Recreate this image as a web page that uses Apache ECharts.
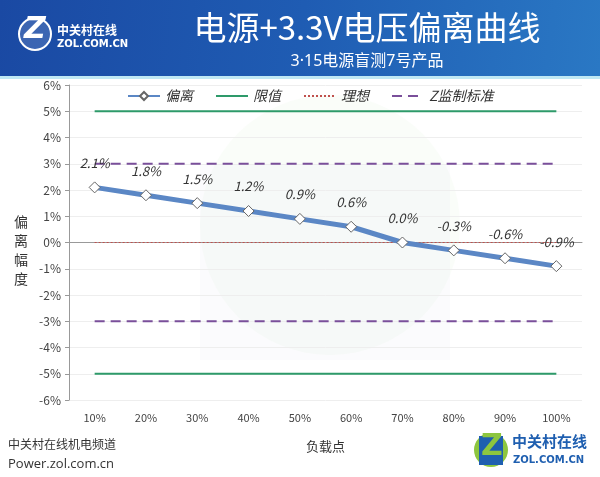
<!DOCTYPE html>
<html><head><meta charset="utf-8">
<script src="https://cdn.jsdelivr.net/npm/echarts@6/dist/echarts.min.js"></script>
<style>html,body{margin:0;padding:0;background:#fff}#c{width:600px;height:477px}</style>
</head><body><div id="c"></div>
<script>
const categories = ['10%','20%','30%','40%','50%','60%','70%','80%','90%','100%'];
const deviation = [2.1, 1.8, 1.5, 1.2, 0.9, 0.6, 0.0, -0.3, -0.6, -0.9];
const limitUpper = [5,5,5,5,5,5,5,5,5,5];
const limitLower = [-5,-5,-5,-5,-5,-5,-5,-5,-5,-5];
const ideal = [0,0,0,0,0,0,0,0,0,0];
const stdUpper = [3,3,3,3,3,3,3,3,3,3];
const stdLower = [-3,-3,-3,-3,-3,-3,-3,-3,-3,-3];
const yTicks = [-6,-5,-4,-3,-2,-1,0,1,2,3,4,5,6];

const font = '"Noto Sans CJK SC", "Noto Sans", sans-serif';
const chart = echarts.init(document.getElementById('c'));
const green = '#2e9a6a', purple = '#7a4f9a', red = '#c0504d', blue = '#5b87c5';

chart.setOption({
  backgroundColor: '#fff',
  textStyle: { fontFamily: font },
  title: [{
    text: '电源+3.3V电压偏离曲线', left: 362, top: 6, textAlign: 'center',
    textStyle: { color: '#fff', fontSize: 33, fontWeight: 'normal', fontFamily: font }
  }, {
    text: '3·15电源盲测7号产品', left: 362, top: 48, textAlign: 'center',
    textStyle: { color: '#fff', fontSize: 16, fontWeight: 'normal', fontFamily: '"Noto Sans", "Noto Sans CJK SC", sans-serif' }
  }],
  graphic: [
    { type: 'rect', z: -10, shape: { x: 0, y: 0, width: 600, height: 76 },
      style: { fill: new echarts.graphic.LinearGradient(0, 0, 1, 1, [
        { offset: 0, color: '#1a49a3' }, { offset: 0.5, color: '#1f5cb3' }, { offset: 1, color: '#2a78c4' }]) } },
    { type: 'rect', z: -10, shape: { x: 0, y: 76, width: 600, height: 3 }, style: { fill: '#bfe8f4' } },
    { type: 'circle', z: -10, shape: { cx: 35, cy: 34, r: 16 }, style: { fill: 'rgba(255,255,255,0.15)', stroke: '#fff', lineWidth: 2 } },
    { type: 'text', z: 10, left: 24, top: 15, style: { text: 'Z', fill: '#fff', font: 'italic bold 30px "DejaVu Sans", sans-serif' } },
    { type: 'text', z: 10, left: 57, top: 24, style: { text: '中关村在线', fill: '#fff', font: 'bold 12px ' + font } },
    { type: 'text', z: 10, left: 57, top: 39, style: { text: 'ZOL.COM.CN', fill: '#fff', font: 'bold 10px "DejaVu Sans", sans-serif' } },
    { type: 'circle', z: -20, shape: { cx: 330, cy: 225, r: 130 }, style: { fill: 'rgba(220,238,205,0.13)' } },
    { type: 'rect', z: -19, shape: { x: 200, y: 165, width: 250, height: 195 }, style: { fill: 'rgba(228,228,242,0.15)' } },
    { type: 'text', left: 14, top: 212, style: { text: '偏\n离\n幅\n度', fill: '#333', font: '14px ' + font, lineHeight: 19 } },
    { type: 'text', left: 8, top: 438, style: { text: '中关村在线机电频道', fill: '#333', font: '12px ' + font } },
    { type: 'text', left: 8, top: 458, style: { text: 'Power.zol.com.cn', fill: '#333', font: '13px "Open Sans", sans-serif' } },
    { type: 'circle', shape: { cx: 491, cy: 450, r: 17 }, style: { fill: '#8dc63f' } },
    { type: 'rect', shape: { x: 479, y: 436, width: 24, height: 29 }, style: { fill: '#1f5fb0' } },
    { type: 'text', left: 481, top: 432, style: { text: 'Z', fill: '#8dc63f', font: 'bold 30px "DejaVu Sans", sans-serif' } },
    { type: 'text', left: 512, top: 434, style: { text: '中关村在线', fill: '#1f5fb0', font: 'bold 15px ' + font } },
    { type: 'text', left: 513, top: 455, style: { text: 'ZOL.COM.CN', fill: '#1f5fb0', font: 'bold 10px "DejaVu Sans", sans-serif' } }
  ],
  legend: {
    top: 84, left: 122, itemWidth: 32, itemHeight: 10, itemGap: 22,
    data: ['偏离',
      { name: '限值', itemStyle: { opacity: 0 } },
      { name: '理想', itemStyle: { opacity: 0 } },
      { name: 'Z监制标准', itemStyle: { opacity: 0 } }],
    textStyle: { fontSize: 14, fontStyle: 'italic', color: '#333', fontFamily: font }
  },
  grid: { left: 69, right: 18, top: 85, bottom: 77 },
  xAxis: {
    type: 'category', data: categories, boundaryGap: true,
    name: '负载点', nameLocation: 'middle', nameGap: 40,
    nameTextStyle: { fontSize: 13, color: '#333', fontFamily: font },
    axisLine: { lineStyle: { color: '#999' } },
    axisTick: { alignWithLabel: true, length: 5, lineStyle: { color: '#999' } },
    axisLabel: { color: '#444', fontSize: 11, margin: 12 }
  },
  yAxis: {
    type: 'value', min: -6, max: 6, interval: 1,
    axisLine: { show: true, lineStyle: { color: '#999' } },
    axisTick: { show: true, length: 4, lineStyle: { color: '#999' } },
    axisLabel: { color: '#444', fontSize: 12, margin: 8, formatter: v => yTicks.includes(v) ? v + '%' : '' },
    splitLine: { lineStyle: { color: '#eeeeee' } }
  },
  series: [
    { name: '偏离', type: 'line', data: deviation, z: 5,
      symbol: 'diamond', symbolSize: 11,
      lineStyle: { color: blue, width: 5 },
      itemStyle: { color: '#fff', borderColor: '#666', borderWidth: 1 },
      label: { show: true, position: 'top', distance: 12, fontSize: 13, fontStyle: 'italic', color: '#333',
        formatter: p => p.value.toFixed(1) + '%' } },
    { name: '限值', type: 'line', data: limitUpper, symbol: 'none', lineStyle: { color: green, width: 2 }, itemStyle: { color: green } },
    { name: '限值', type: 'line', data: limitLower, symbol: 'none', lineStyle: { color: green, width: 2 }, itemStyle: { color: green } },
    { name: '理想', type: 'line', data: ideal, symbol: 'none', lineStyle: { color: red, width: 1, type: [2, 2] }, itemStyle: { color: red } },
    { name: 'Z监制标准', type: 'line', data: stdUpper, symbol: 'none', lineStyle: { color: purple, width: 2, type: [10, 6] }, itemStyle: { color: purple } },
    { name: 'Z监制标准', type: 'line', data: stdLower, symbol: 'none', lineStyle: { color: purple, width: 2, type: [10, 6] }, itemStyle: { color: purple } }
  ]
});
</script></body></html>
